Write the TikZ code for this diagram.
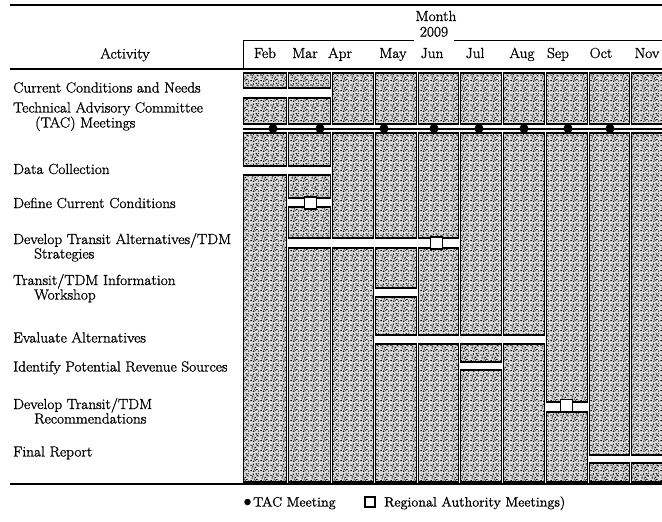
\documentclass[tikz,border=0pt]{standalone}
\usepackage{fontspec}
\newfontfamily\chartfont{Latin Modern Roman}[FakeBold=1.3, FakeStretch=1.05]
\usetikzlibrary{patterns}
\pgfdeclarepatternformonly{stipple}{\pgfpointorigin}{\pgfqpoint{10pt}{10pt}}{\pgfqpoint{10pt}{10pt}}{%
  \pgfpathrectangle{\pgfqpoint{0.4pt}{0.9pt}}{\pgfqpoint{1.5pt}{1.1pt}}%
  \pgfpathrectangle{\pgfqpoint{3.5pt}{0.2pt}}{\pgfqpoint{1.2pt}{1.2pt}}%
  \pgfpathrectangle{\pgfqpoint{6.6pt}{2.2pt}}{\pgfqpoint{1.6pt}{1.0pt}}%
  \pgfpathrectangle{\pgfqpoint{1.8pt}{3.7pt}}{\pgfqpoint{1.1pt}{1.4pt}}%
  \pgfpathrectangle{\pgfqpoint{5.0pt}{4.5pt}}{\pgfqpoint{1.5pt}{1.1pt}}%
  \pgfpathrectangle{\pgfqpoint{8.2pt}{5.8pt}}{\pgfqpoint{1.2pt}{1.2pt}}%
  \pgfpathrectangle{\pgfqpoint{0.3pt}{6.8pt}}{\pgfqpoint{1.4pt}{1.1pt}}%
  \pgfpathrectangle{\pgfqpoint{3.2pt}{7.7pt}}{\pgfqpoint{1.1pt}{1.4pt}}%
  \pgfpathrectangle{\pgfqpoint{6.1pt}{8.4pt}}{\pgfqpoint{1.5pt}{1.1pt}}%
  \pgfpathrectangle{\pgfqpoint{4.2pt}{2.7pt}}{\pgfqpoint{1.1pt}{1.1pt}}%
  \pgfpathrectangle{\pgfqpoint{8.8pt}{0.3pt}}{\pgfqpoint{1.1pt}{1.2pt}}%
  \pgfpathrectangle{\pgfqpoint{2.4pt}{5.9pt}}{\pgfqpoint{1.2pt}{1.0pt}}%
  \pgfpathrectangle{\pgfqpoint{7.1pt}{6.6pt}}{\pgfqpoint{1.0pt}{1.2pt}}%
  \pgfpathrectangle{\pgfqpoint{5.6pt}{1.4pt}}{\pgfqpoint{1.0pt}{1.0pt}}%
  \pgfpathrectangle{\pgfqpoint{9.0pt}{8.6pt}}{\pgfqpoint{0.9pt}{1.1pt}}%
  \pgfusepath{fill}}
\begin{document}
\begin{tikzpicture}[x=1pt,y=-1pt]
\tikzset{
  cellbox/.style={draw=black, line width=1.4pt, fill=black!14,
    postaction={pattern=stipple, pattern color=black}},
  lbl/.style={anchor=base west, inner sep=0pt, font=\chartfont\fontsize{14.6}{16}\selectfont},
  mon/.style={anchor=base, inner sep=0pt, font=\chartfont\fontsize{14.6}{16}\selectfont},
  legtxt/.style={anchor=base west, inner sep=0pt, font=\chartfont\fontsize{13.5}{15}\selectfont},
  heavyrule/.style={line width=2pt},
  thinrule/.style={line width=1pt},
  tacdot/.style={circle, fill=black, inner sep=0pt, minimum size=9pt},
  ramsq/.style={draw=black, fill=white, line width=1.3pt, inner sep=0pt, minimum size=12pt},
}
\useasboundingbox (0,0) rectangle (662,522);
\clip (0,0) rectangle (662,522);
\fill[white] (0,0) rectangle (662,522);

% ---- cells ----
% Feb
\foreach \t/\b in {73/88,98/124,133/166,175/482}
  \draw[cellbox] (243.5,\t) rectangle (286.5,\b);
% Mar
\foreach \t/\b in {73/88,98/124,133/166,175/198,207/238,248/482}
  \draw[cellbox] (288.5,\t) rectangle (330.5,\b);
% Apr
\foreach \t/\b in {73/124,133/238,248/482}
  \draw[cellbox] (332.5,\t) rectangle (373.5,\b);
% May
\foreach \t/\b in {73/124,133/238,248/288,297/335,344/482}
  \draw[cellbox] (375.5,\t) rectangle (416.5,\b);
% Jun
\foreach \t/\b in {73/124,133/238,248/335,344/482}
  \draw[cellbox] (418.5,\t) rectangle (458.5,\b);
% Jul
\foreach \t/\b in {73/124,133/335,344/362,370/482}
  \draw[cellbox] (460.5,\t) rectangle (501.5,\b);
% Aug
\foreach \t/\b in {73/124,133/335,344/482}
  \draw[cellbox] (503.5,\t) rectangle (544.5,\b);
% Sep
\foreach \t/\b in {73/124,133/402,412/482}
  \draw[cellbox] (546.5,\t) rectangle (587.5,\b);
% Oct
\foreach \t/\b in {73/124,133/455,463/482}
  \draw[cellbox] (589.5,\t) rectangle (629.5,\b);
% Nov
\foreach \t/\b in {73/124,133/455,463/482}
  \draw[cellbox] (631.5,\t) rectangle (675,\b);

% ---- TAC meetings line ----
\coordinate (tacL) at (243,128.5);
\coordinate (tacR) at (670,128.5);
\draw[line width=2pt] (tacL) -- (tacR);
\foreach \n/\x in {1/273,2/320,3/384,4/434,5/479,6/524,7/568,8/610}
  \node[tacdot] (tac\n) at (\x,128.5) {};

% ---- Regional Authority meetings ----
\node[ramsq] (ram1) at (310.5,203) {};
\node[ramsq] (ram2) at (436.5,243) {};
\node[ramsq] (ram3) at (566.5,405.5) {};

% ---- header rules ----
\draw[heavyrule] (10,5) -- (662,5);
\draw[heavyrule] (10,69) -- (662,69);
\draw[heavyrule] (10,484) -- (662,484);
\draw[thinrule] (243,40) -- (243,69);
\draw[thinrule] (243,40) -- (414,40);
\draw[thinrule] (454,40) -- (662,40);

% ---- header texts ----
\node[mon] (hmonth) at (436,21) {Month};
\node[mon] (hyear) at (434,36.5) {2009};
\node[mon] (hact) at (125,58.5) {Activity};
\foreach \n/\x in {Feb/265,Mar/305,Apr/340,May/393,Jun/432,Jul/475,Aug/522,Sep/558,Oct/601,Nov/647}
  \node[mon] (m\n) at (\x,58) {\n};

% ---- activity labels ----
\node[lbl] (a1) at (13,92.5) {Current Conditions and Needs};
\node[lbl] (a2) at (13,112.5) {Technical Advisory Committee};
\node[lbl] (a2b) at (35,127.5) {(TAC) Meetings};
\node[lbl] (a3) at (13,174) {Data Collection};
\node[lbl] (a4) at (13,208) {Define Current Conditions};
\node[lbl] (a5) at (13,244) {Develop Transit Alternatives/TDM};
\node[lbl] (a5b) at (34,258.5) {Strategies};
\node[lbl] (a6) at (13,285) {Transit/TDM Information};
\node[lbl] (a6b) at (34,299.5) {Workshop};
\node[lbl] (a7) at (13,342.5) {Evaluate Alternatives};
\node[lbl] (a8) at (13,371.5) {Identify Potential Revenue Sources};
\node[lbl] (a9) at (13,409) {Develop Transit/TDM};
\node[lbl] (a9b) at (34,423.5) {Recommendations};
\node[lbl] (a10) at (13,456.5) {Final Report};

% ---- legend ----
\node[circle, fill=black, inner sep=0pt, minimum size=6.5pt] (legdot) at (247.5,502) {};
\node[legtxt] (legtac) at (253,506.5) {TAC Meeting};
\node[draw=black, fill=white, line width=1.1pt, inner sep=0pt, minimum size=10pt] (legsq) at (370,502) {};
\node[legtxt] (legram) at (384,506.5) {Regional Authority Meetings)};
\end{tikzpicture}
\end{document}
